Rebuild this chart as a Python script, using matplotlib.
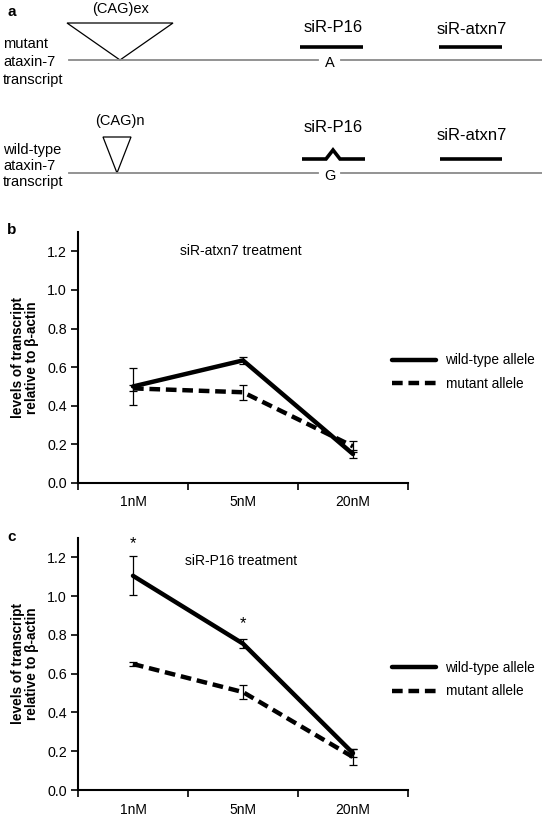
import matplotlib
matplotlib.use("Agg")
import matplotlib.pyplot as plt
from matplotlib.patches import Polygon

plt.rcParams['font.family'] = ['Liberation Sans', 'DejaVu Sans']

categories = ["1nM", "5nM", "20nM"]
yticks = [0.0, 0.2, 0.4, 0.6, 0.8, 1.0, 1.2]

# panel b: siR-atxn7 treatment
b_wt = [0.50, 0.635, 0.15]
b_wt_err = [0.097, 0.018, 0.02]
b_mut = [0.49, 0.47, 0.19]
b_mut_err = [0.015, 0.04, 0.03]

# panel c: siR-P16 treatment
c_wt = [1.105, 0.755, 0.19]
c_wt_err = [0.10, 0.022, 0.02]
c_mut = [0.65, 0.505, 0.17]
c_mut_err = [0.01, 0.038, 0.04]
c_star_y = [1.27, 0.86]

W, H = 542, 815
fig = plt.figure(figsize=(W / 100, H / 100), dpi=100)

# ---------- panel a schematic (pixel coords) ----------
axa = fig.add_axes([0, 0, 1, 1], zorder=0)
axa.set_xlim(0, W)
axa.set_ylim(H, 0)
axa.axis('off')
gray = '#8a8a8a'
fs_a = 10.5
axa.text(7, 12, 'a', fontsize=11, fontweight='bold', va='center', ha='left')

# mutant transcript
y1 = 60
axa.plot([69, 318], [y1, y1], color=gray, lw=1.3)
axa.plot([341, W], [y1, y1], color=gray, lw=1.3)
axa.text(329.5, y1 + 3, 'A', fontsize=fs_a, ha='center', va='center')
axa.add_patch(Polygon([[67, 23], [173, 23], [120, y1]], closed=True, fill=False, ec='black', lw=0.9))
axa.text(121, 9, '(CAG)ex', fontsize=fs_a, ha='center', va='center')
axa.text(333, 28, 'siR-P16', fontsize=12, ha='center', va='center')
axa.plot([300, 363], [47, 47], color='black', lw=2.6, solid_capstyle='butt')
axa.text(472, 29, 'siR-atxn7', fontsize=12, ha='center', va='center')
axa.plot([439, 502], [47, 47], color='black', lw=2.6, solid_capstyle='butt')
axa.text(3, 62, 'mutant\nataxin-7\ntranscript', fontsize=fs_a, ha='left', va='center', linespacing=1.36)

# wild-type transcript
y2 = 173
axa.plot([69, 318], [y2, y2], color=gray, lw=1.3)
axa.plot([341, W], [y2, y2], color=gray, lw=1.3)
axa.text(329.5, y2 + 3, 'G', fontsize=fs_a, ha='center', va='center')
axa.add_patch(Polygon([[103, 137], [131, 137], [117, y2]], closed=True, fill=False, ec='black', lw=0.9))
axa.text(120, 121, '(CAG)n', fontsize=fs_a, ha='center', va='center')
axa.text(333, 128, 'siR-P16', fontsize=12, ha='center', va='center')
axa.plot([302, 326, 333, 340, 365], [159, 159, 150, 159, 159], color='black', lw=2.6,
         solid_capstyle='butt', solid_joinstyle='miter')
axa.text(472, 135, 'siR-atxn7', fontsize=12, ha='center', va='center')
axa.plot([440, 502], [159, 159], color='black', lw=2.6, solid_capstyle='butt')
axa.text(3, 166, 'wild-type\nataxin-7\ntranscript', fontsize=fs_a, ha='left', va='center', linespacing=1.2)

axa.text(7, 230, 'b', fontsize=11, fontweight='bold', va='center', ha='left')
axa.text(7, 537, 'c', fontsize=11, fontweight='bold', va='center', ha='left')


def panel(rect, wt, wt_err, mut, mut_err, title, title_pos, leg_y, stars=None):
    ax = fig.add_axes(rect, zorder=1)
    ax.patch.set_alpha(0)
    x = list(range(len(categories)))
    ax.errorbar(x, wt, yerr=wt_err, fmt='none', ecolor='black', elinewidth=0.9, capsize=3, capthick=0.9, zorder=2)
    ax.errorbar(x, mut, yerr=mut_err, fmt='none', ecolor='black', elinewidth=0.9, capsize=3, capthick=0.9, zorder=2)
    ax.plot(x, wt, color='black', lw=3.2, solid_capstyle='round', zorder=3, label='wild-type allele')
    ax.plot(x, mut, color='black', lw=3.2, dashes=(2.4, 1.3), zorder=3, label='mutant allele')
    if stars is not None:
        for xi, ys in zip(x, stars):
            ax.text(xi, ys, '*', ha='center', va='center', fontsize=12)
    ax.set_xlim(-0.5, 2.5)
    ax.set_ylim(0, 1.3)
    ax.set_xticks([-0.5, 0.5, 1.5, 2.5])
    ax.set_xticklabels([])
    ax.set_xticks(x, minor=True)
    ax.set_xticklabels(categories, minor=True, fontsize=10)
    ax.tick_params(axis='x', which='minor', length=0, pad=9)
    ax.tick_params(axis='x', which='major', length=5, width=1.2, direction='out')
    ax.set_yticks(yticks)
    ax.set_yticklabels([f'{v:.1f}' for v in yticks], fontsize=10.3)
    ax.tick_params(axis='y', length=5, width=1.2, direction='out', pad=3)
    for s in ['top', 'right']:
        ax.spines[s].set_visible(False)
    for s in ['left', 'bottom']:
        ax.spines[s].set_linewidth(1.5)
    ax.set_ylabel('levels of transcript\nrelative to β-actin', fontsize=9.8, fontweight='bold',
                  linespacing=1.0, labelpad=6)
    ax.text(title_pos[0], title_pos[1], title, transform=ax.transData, fontsize=10, ha='left', va='center')
    ax.legend(loc='center left', bbox_to_anchor=(0.952, leg_y), frameon=False, fontsize=9.8,
              borderpad=0, borderaxespad=0,
              handlelength=3.2, handletextpad=0.72, labelspacing=0.7)
    return ax


panel([78 / W, 1 - 483 / H, 330 / W, 251 / H], b_wt, b_wt_err, b_mut, b_mut_err,
      'siR-atxn7 treatment', (0.43, 1.2), 0.442)
panel([78 / W, 1 - 790 / H, 330 / W, 252 / H], c_wt, c_wt_err, c_mut, c_mut_err,
      'siR-P16 treatment', (0.47, 1.18), 0.438, stars=c_star_y)

fig.savefig('out.png', dpi=100)
